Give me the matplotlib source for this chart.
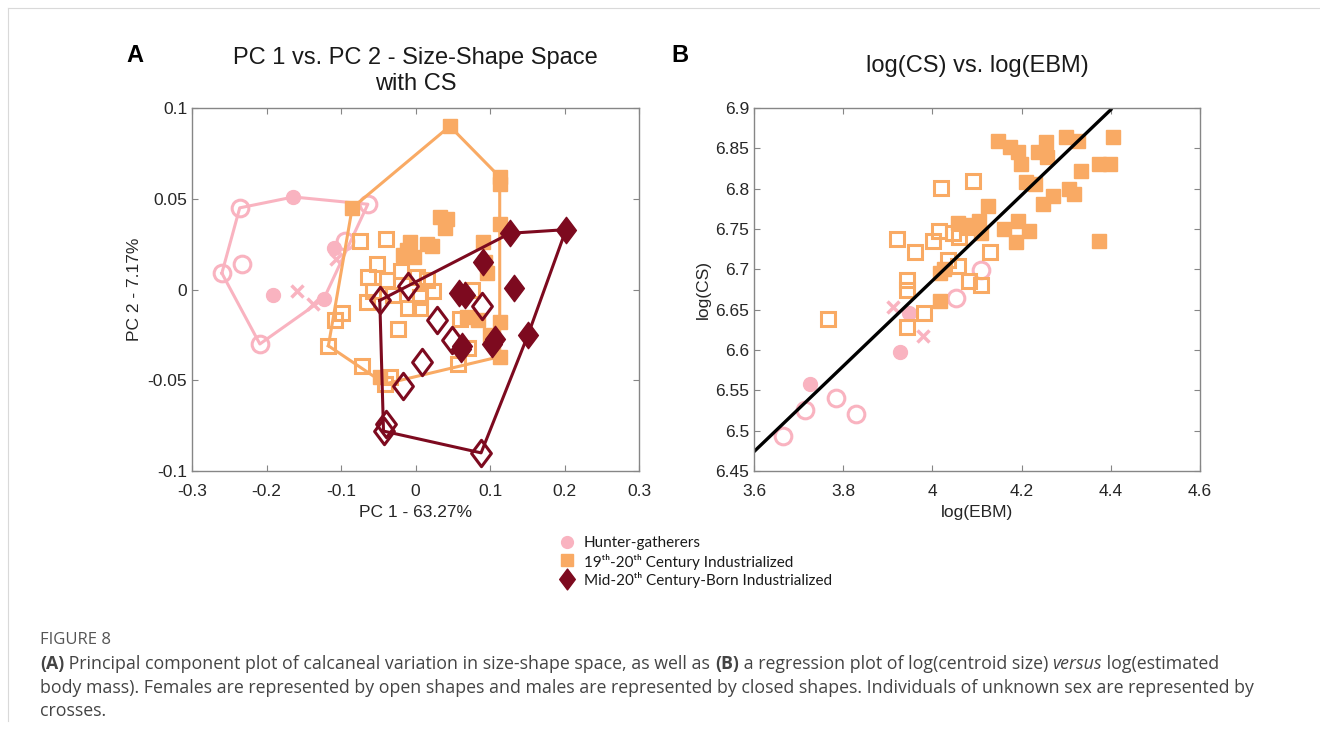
import matplotlib
matplotlib.use("Agg")
import matplotlib.pyplot as plt
from matplotlib.lines import Line2D
from matplotlib.path import Path
import numpy as np

plt.rcParams['font.family'] = ['Liberation Sans', 'DejaVu Sans']
plt.rcParams['axes.unicode_minus'] = False

# colours
PINK = '#F9B3C0'
ORANGE = '#F9AA64'
RED = '#7D0A1F'

# ---- panel A : PC1 vs PC2 ----
# hunter-gatherers
hg_f_x = [-0.236, -0.260, -0.233, -0.209, -0.095, -0.064]
hg_f_y = [0.045, 0.009, 0.014, -0.030, 0.027, 0.047]
hg_m_x = [-0.164, -0.191, -0.109, -0.123]
hg_m_y = [0.051, -0.003, 0.023, -0.005]
hg_u_x = [-0.159, -0.138, -0.107]
hg_u_y = [-0.001, -0.008, 0.017]

# 19th-20th century industrialized
ind_m_x = [0.046, 0.113, 0.113, -0.085, 0.033, 0.042, 0.040, 0.113, 0.091, -0.007, 0.015, 0.022,
           -0.017, -0.002, 0.093, 0.096, 0.069, 0.084, 0.113, 0.100, 0.113, -0.048, -0.012]
ind_m_y = [0.090, 0.062, 0.058, 0.045, 0.040, 0.039, 0.034, 0.036, 0.026, 0.026, 0.025, 0.024,
           0.019, 0.018, 0.015, 0.009, -0.015, -0.017, -0.018, -0.025, -0.037, -0.048, 0.022]
ind_f_x = [-0.075, -0.039, -0.052, -0.064, -0.038, -0.057, -0.065, -0.099, -0.108, -0.117, -0.072,
           -0.024, -0.010, 0.006, 0.002, 0.015, 0.006, 0.057, 0.071, -0.034, -0.041, 0.076, 0.060,
           -0.020, -0.030, 0.024]
ind_f_y = [0.027, 0.028, 0.014, 0.007, 0.005, -0.001, -0.007, -0.013, -0.017, -0.031, -0.042,
           -0.022, -0.010, -0.010, 0.007, 0.005, -0.004, -0.041, -0.032, -0.048, -0.052, 0.000, -0.016,
           0.010, -0.003, -0.001]

# mid-20th century-born industrialized
mid_m_x = [0.127, 0.202, 0.091, 0.132, 0.058, 0.067, 0.151, 0.061, 0.063, 0.107, 0.103]
mid_m_y = [0.031, 0.033, 0.015, 0.001, -0.002, -0.003, -0.025, -0.033, -0.031, -0.027, -0.030]
mid_f_x = [-0.048, -0.010, 0.029, 0.049, 0.089, 0.009, -0.017, -0.043, -0.040, 0.088]
mid_f_y = [-0.006, 0.002, -0.017, -0.028, -0.009, -0.040, -0.053, -0.078, -0.074, -0.090]

# ---- panel B : log(CS) vs log(EBM) ----
hgB_f_x = [3.665, 3.715, 3.784, 3.829, 4.052, 4.108]
hgB_f_y = [6.494, 6.526, 6.540, 6.521, 6.665, 6.699]
hgB_m_x = [3.726, 3.928, 3.948]
hgB_m_y = [6.558, 6.597, 6.646]
hgB_u_x = [3.912, 3.980]
hgB_u_y = [6.653, 6.617]

indB_f_x = [3.766, 3.942, 3.982, 3.942, 3.944, 3.921, 3.961, 4.020, 4.002, 4.014, 4.092, 4.130,
            4.058, 4.081, 4.108, 4.047, 4.078, 4.035, 4.060]
indB_f_y = [6.639, 6.628, 6.646, 6.675, 6.687, 6.738, 6.721, 6.801, 6.735, 6.747, 6.810, 6.722,
            6.704, 6.685, 6.680, 6.745, 6.752, 6.712, 6.740]
indB_m_x = [4.018, 4.025, 4.016, 4.058, 4.080, 4.124, 4.160, 4.193, 4.187, 4.216, 4.146, 4.175,
            4.193, 4.198, 4.254, 4.236, 4.258, 4.299, 4.326, 4.404, 4.333, 4.373, 4.398, 4.209,
            4.231, 4.306, 4.317, 4.270, 4.247, 4.373, 4.110, 4.105]
indB_m_y = [6.696, 6.700, 6.661, 6.758, 6.755, 6.778, 6.750, 6.760, 6.734, 6.747, 6.859, 6.852,
            6.845, 6.831, 6.858, 6.846, 6.839, 6.864, 6.859, 6.864, 6.822, 6.831, 6.830, 6.808,
            6.806, 6.800, 6.793, 6.791, 6.781, 6.735, 6.745, 6.760]

# regression line end points
fit_x = [3.6, 4.4]
fit_y = [6.474, 6.898]

legend_labels = ['Hunter-gatherers',
                 '19\u1d57\u02b0-20\u1d57\u02b0 Century Industrialized',
                 'Mid-20\u1d57\u02b0 Century-Born Industrialized']

# a diamond a bit narrower than tall, like the matlab one in the figure
DIAMOND = Path([(0, 1), (0.75, 0), (0, -1), (-0.75, 0), (0, 1)],
               [Path.MOVETO, Path.LINETO, Path.LINETO, Path.LINETO, Path.CLOSEPOLY])


def hull(xs, ys):
    # monotone chain convex hull, closed
    pts = sorted(set(zip(xs, ys)))

    def cross(o, a, b):
        return (a[0] - o[0]) * (b[1] - o[1]) - (a[1] - o[1]) * (b[0] - o[0])
    lower = []
    for p in pts:
        while len(lower) >= 2 and cross(lower[-2], lower[-1], p) <= 0:
            lower.pop()
        lower.append(p)
    upper = []
    for p in reversed(pts):
        while len(upper) >= 2 and cross(upper[-2], upper[-1], p) <= 0:
            upper.pop()
        upper.append(p)
    h = lower[:-1] + upper[:-1]
    h.append(h[0])
    return [p[0] for p in h], [p[1] for p in h]


def style_axes(ax):
    for s in ax.spines.values():
        s.set_color('#868686')
        s.set_linewidth(1.0)
    ax.tick_params(direction='in', length=4, width=0.8, color='#868686',
                   top=True, right=True, labelsize=12.5, labelcolor='#262626')
    ax.tick_params(axis='x', pad=9)


fig = plt.figure(figsize=(13.2, 7.29), dpi=100)

# frame lines of the page
fig.add_artist(Line2D([8 / 1320, 1], [1 - 8 / 729, 1 - 8 / 729], color='#d9d9d9', lw=0.8))
fig.add_artist(Line2D([8 / 1320, 8 / 1320], [8 / 729, 1 - 8 / 729], color='#d9d9d9', lw=0.8))

MS_C = 12
MS_S = 9.5
MS_D = 19
MEW = 2.2
LW = 2.2

# panel A
axA = fig.add_axes([0.1455, 0.3539, 0.3386, 0.4979])
axA.plot(hg_f_x, hg_f_y, 'o', ms=MS_C, mfc='none', mec=PINK, mew=MEW, ls='none')
axA.plot(hg_m_x, hg_m_y, 'o', ms=MS_C - 2, mfc=PINK, mec=PINK, ls='none')
axA.plot(hg_u_x, hg_u_y, 'x', ms=8, mec=PINK, mew=2.5, ls='none')
hx, hy = hull(hg_f_x + hg_m_x + hg_u_x, hg_f_y + hg_m_y + hg_u_y)
axA.plot(hx, hy, color=PINK, lw=LW)

axA.plot(ind_f_x, ind_f_y, 's', ms=MS_S, mfc='none', mec=ORANGE, mew=MEW, ls='none')
axA.plot(ind_m_x, ind_m_y, 's', ms=MS_S + 1, mfc=ORANGE, mec=ORANGE, ls='none')
hx, hy = hull(ind_f_x + ind_m_x, ind_f_y + ind_m_y)
axA.plot(hx, hy, color=ORANGE, lw=LW)

axA.plot(mid_f_x, mid_f_y, marker=DIAMOND, ms=MS_D, mfc='none', mec=RED, mew=MEW, ls='none')
axA.plot(mid_m_x, mid_m_y, marker=DIAMOND, ms=MS_D, mfc=RED, mec=RED, ls='none')
hx, hy = hull(mid_f_x + mid_m_x, mid_f_y + mid_m_y)
axA.plot(hx, hy, color=RED, lw=LW)

axA.set_xlim(-0.3, 0.3)
axA.set_ylim(-0.1, 0.1)
axA.set_xticks([-0.3, -0.2, -0.1, 0, 0.1, 0.2, 0.3])
axA.set_xticklabels(['-0.3', '-0.2', '-0.1', '0', '0.1', '0.2', '0.3'])
axA.set_yticks([-0.1, -0.05, 0, 0.05, 0.1])
axA.set_yticklabels(['-0.1', '-0.05', '0', '0.05', '0.1'])
axA.set_xlabel('PC 1 - 63.27%', fontsize=12.5, color='#262626', labelpad=5)
axA.set_ylabel('PC 2 - 7.17%', fontsize=12.5, color='#262626', labelpad=4)
axA.set_title('PC 1 vs. PC 2 - Size-Shape Space\nwith CS', fontsize=17, color='#1a1a1a',
              linespacing=1.25, pad=13)
style_axes(axA)

# panel B
axB = fig.add_axes([0.5712, 0.3539, 0.3379, 0.4979])
axB.plot(hgB_f_x, hgB_f_y, 'o', ms=MS_C, mfc='none', mec=PINK, mew=MEW, ls='none')
axB.plot(hgB_m_x, hgB_m_y, 'o', ms=MS_C - 2, mfc=PINK, mec=PINK, ls='none')
axB.plot(hgB_u_x, hgB_u_y, 'x', ms=8, mec=PINK, mew=2.5, ls='none')
axB.plot(indB_f_x, indB_f_y, 's', ms=MS_S, mfc='none', mec=ORANGE, mew=MEW, ls='none')
axB.plot(indB_m_x, indB_m_y, 's', ms=MS_S + 1, mfc=ORANGE, mec=ORANGE, ls='none')
axB.plot(fit_x, fit_y, color='black', lw=2.4)
axB.set_xlim(3.6, 4.6)
axB.set_ylim(6.45, 6.9)
axB.set_xticks([3.6, 3.8, 4.0, 4.2, 4.4, 4.6])
axB.set_xticklabels(['3.6', '3.8', '4', '4.2', '4.4', '4.6'])
yt = [6.45, 6.5, 6.55, 6.6, 6.65, 6.7, 6.75, 6.8, 6.85, 6.9]
axB.set_yticks(yt)
axB.set_yticklabels(['6.45', '6.5', '6.55', '6.6', '6.65', '6.7', '6.75', '6.8', '6.85', '6.9'])
axB.set_xlabel('log(EBM)', fontsize=12.5, color='#262626', labelpad=5)
axB.set_ylabel('log(CS)', fontsize=12.5, color='#262626', labelpad=3)
axB.set_title('log(CS) vs. log(EBM)', fontsize=17, color='#1a1a1a', pad=26)
style_axes(axB)

# panel letters
fig.text(135 / 1320, 1 - 55 / 729, 'A', fontsize=17, fontweight='bold', ha='center', va='center')
fig.text(680 / 1320, 1 - 55 / 729, 'B', fontsize=17, fontweight='bold', ha='center', va='center')

# legend, drawn row by row
leg_markers = [dict(marker='o', ms=8.5, color=PINK),
               dict(marker='s', ms=8.5, color=ORANGE),
               dict(marker=DIAMOND, ms=15, color=RED)]
leg_rows = [542, 560, 579]
for lab, mk, yy in zip(legend_labels, leg_markers, leg_rows):
    fig.add_artist(Line2D([567 / 1320], [1 - yy / 729], marker=mk['marker'], ms=mk['ms'],
                          mfc=mk['color'], mec=mk['color'], ls='none'))
    fig.text(584 / 1320, 1 - yy / 729, lab, family=['Lato', 'DejaVu Sans'], fontsize=11,
             color='#1a1a1a', va='center_baseline')

# caption
fig.text(40 / 1320, 1 - 640 / 729, 'FIGURE 8', fontsize=12, color='#555555',
         family='Open Sans', va='center')

cap_lines = [
    [('(A)', 'bold', 'normal'),
     (' Principal component plot of calcaneal variation in size-shape space, as well as ', 'normal', 'normal'),
     ('(B)', 'bold', 'normal'),
     (' a regression plot of log(centroid size) ', 'normal', 'normal'),
     ('versus', 'normal', 'italic'),
     (' log(estimated', 'normal', 'normal')],
    [('body mass). Females are represented by open shapes and males are represented by closed shapes. '
      'Individuals of unknown sex are represented by', 'normal', 'normal')],
    [('crosses.', 'normal', 'normal')],
]
cap_y = [664, 688, 711]
renderer = fig.canvas.get_renderer()
for parts, yy in zip(cap_lines, cap_y):
    x = 40
    for txt, wt, st in parts:
        t = fig.text(x / 1320, 1 - yy / 729, txt, fontsize=12.8, color='#444444', family='Open Sans',
                     fontweight=wt, fontstyle=st, va='center')
        x += t.get_window_extent(renderer).width

fig.savefig('out.png', dpi=100)
